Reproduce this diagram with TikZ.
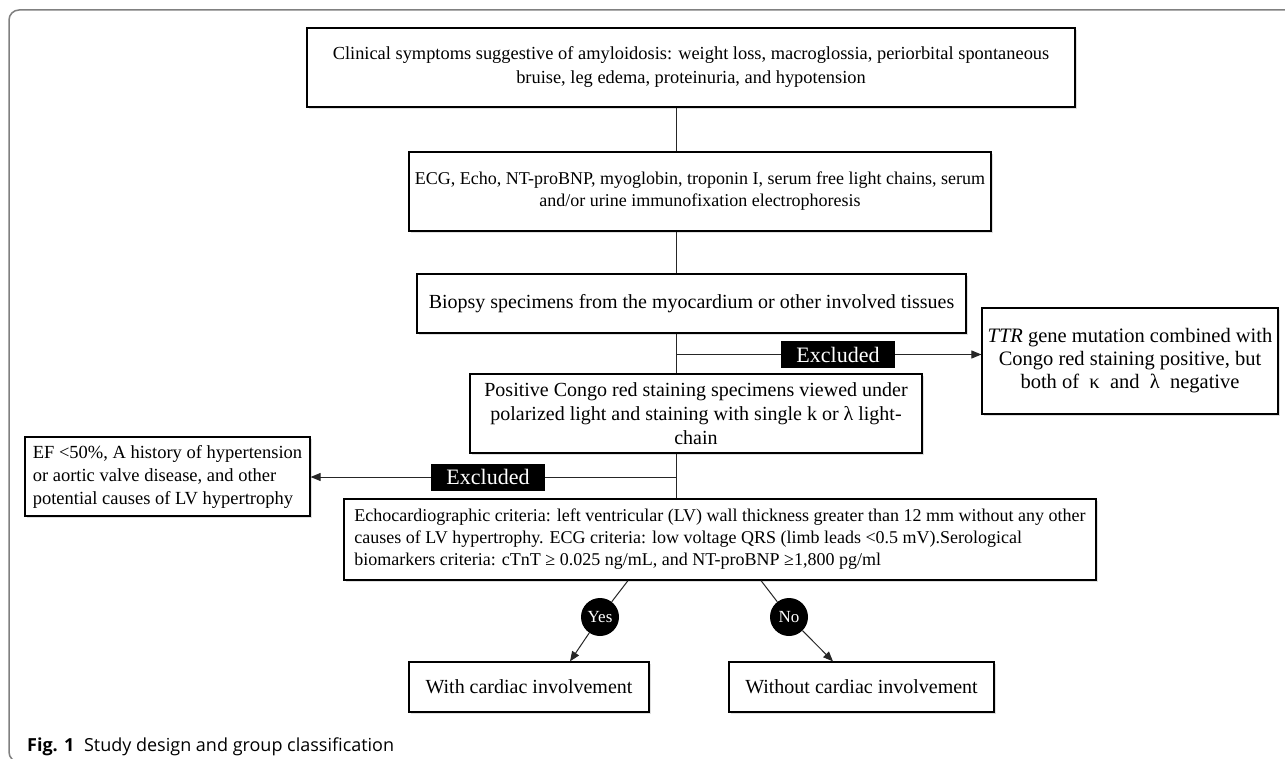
\documentclass[tikz,border=0pt]{standalone}
\usepackage{fontspec}
\setmainfont{Liberation Serif}
\newfontfamily\capfont{Open Sans}
\usetikzlibrary{arrows.meta,calc,shadows}
\begin{document}
\begin{tikzpicture}[x=1pt,y=-1pt,
  box/.style={draw=black,fill=white,line width=1.2pt,inner sep=0pt,align=center,
    drop shadow={opacity=0.25,shadow xshift=1.5pt,shadow yshift=-2pt}},
  fs18/.style={font=\fontsize{18}{22}\selectfont},
  fs20/.style={font=\fontsize{20}{24}\selectfont},
  conn/.style={draw=black!85,line width=1pt},
  arr/.style={conn,-{Triangle[length=10pt,width=8pt]}},
  excl/.style={fill=black,text=white,inner sep=0pt,minimum width=114pt,minimum height=27pt,font=\fontsize{22}{24}\selectfont},
  yn/.style={circle,fill=black,text=white,minimum size=38pt,inner sep=0pt,font=\fontsize{17}{20}\selectfont}]
\useasboundingbox (0,0) rectangle (1285,759);
\fill[white] (0,0) rectangle (1285,759);
% frame
\draw[black!50,line width=1.5pt,rounded corners=10pt] (1290,10) -- (9,10) -- (9,762) -- (40,762);
\coordinate (trunk) at (676,0);
% boxes
\node[box,font=\fontsize{18.4}{24}\selectfont,minimum width=768,minimum height=79] (b1) at (691,67.5)
  {Clinical symptoms suggestive of amyloidosis: weight loss, macroglossia, periorbital spontaneous\\bruise, leg edema, proteinuria, and hypotension};
\node[box,fs18,minimum width=582,minimum height=79] (b2) at (700,191.5)
  {ECG, Echo, NT-proBNP, myoglobin, troponin I, serum free light chains, serum\\and/or urine immunofixation electrophoresis};
\node[box,fs20,minimum width=549,minimum height=59] (b3) at (691.5,303.5)
  {Biopsy specimens from the myocardium or other involved tissues};
\node[box,fs20,minimum width=452,minimum height=79] (b4) at (696,413.5)
  {Positive Congo red staining specimens viewed under\\polarized light and staining with single k or λ light-\\chain};
\node[box,font=\fontsize{20.5}{23}\selectfont,minimum width=296,minimum height=106] (ttr) at (1130,361)
  {\textit{TTR} gene mutation combined with\\Congo red staining positive, but\\both of \ κ \ and \ λ \ negative};
\node[box,font=\fontsize{18.5}{23}\selectfont,align=left,inner xsep=6,minimum width=285,minimum height=79] (b5) at (167.5,476.5)
  {EF <50\%, A history of hypertension\\or aortic valve disease, and other\\potential causes of LV hypertrophy};
\node[box,fs18,align=left,inner xsep=6,minimum width=752,minimum height=81] (b6) at (720,539.5)
  {Echocardiographic criteria: left ventricular (LV) wall thickness greater than 12 mm without any other\\causes of LV hypertrophy. ECG criteria: low voltage QRS (limb leads <0.5 mV).Serological\\biomarkers criteria: cTnT ≥ 0.025 ng/mL, and NT-proBNP ≥1,800 pg/ml};
\node[box,fs20,minimum width=240,minimum height=50] (b7) at (529,687) {With cardiac involvement};
\node[box,fs20,minimum width=265,minimum height=50] (b8) at (861.5,687) {Without cardiac involvement};
% labels
\node[excl] (ex1) at (838,354.5) {Excluded};
\node[excl] (ex2) at (488,477) {Excluded};
\node[yn] (yes) at (600,617) {Yes};
\node[yn] (no) at (789,617) {No};
% connectors
\draw[conn] (b1.south -| trunk) -- (b2.north -| trunk);
\draw[conn] (b2.south -| trunk) -- (b3.north -| trunk);
\draw[conn] (b3.south -| trunk) -- (b4.north -| trunk);
\draw[conn] (b4.south -| trunk) -- (b6.north -| trunk);
\draw[conn] (trunk |- ex1.west) -- (ex1.west);
\draw[arr] (ex1.east) -- (ex1.east -| ttr.west);
\draw[conn] (trunk |- ex2.east) -- (ex2.east);
\draw[arr] (ex2.west) -- (ex2.west -| b5.east);
\draw[conn] ([xshift=-92pt]b6.south) -- (yes);
\draw[arr] (yes) -- ([xshift=41pt]b7.north);
\draw[conn] ([xshift=41pt]b6.south) -- (no);
\draw[arr] (no) -- ([xshift=-28.5pt]b8.north);
% caption
\node[anchor=base west,inner sep=0pt,font=\capfont\fontsize{18}{20}\selectfont] (cap) at (27,751)
  {\textbf{Fig. 1}\hspace{5pt} Study design and group classification};
\end{tikzpicture}
\end{document}
